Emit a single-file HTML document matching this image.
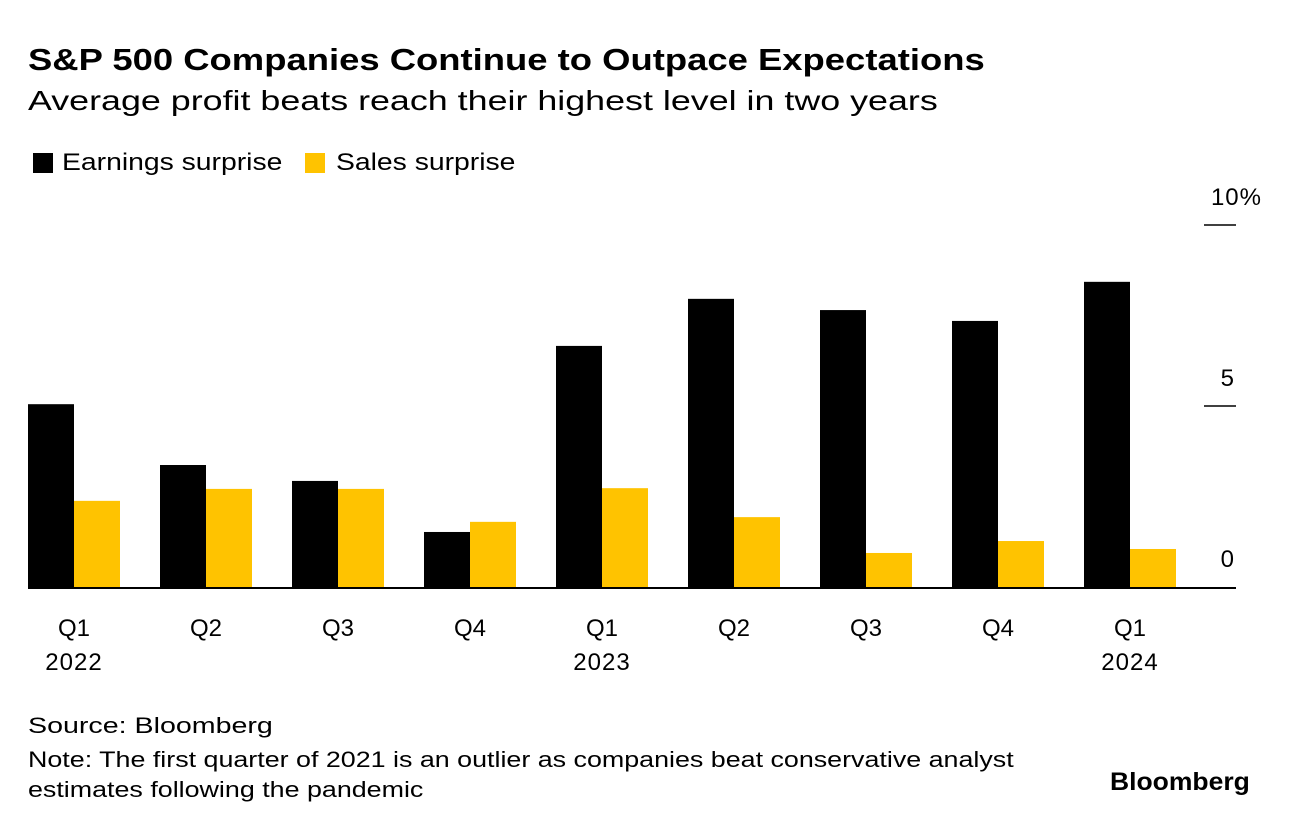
<!DOCTYPE html>
<html><head><meta charset="utf-8">
<style>
body{margin:0;background:#fff;font-family:"Liberation Sans",Arial,sans-serif;}
#wrap{position:relative;width:1289px;height:828px;overflow:hidden;}
.t{position:absolute;white-space:nowrap;color:#000;transform-origin:0 0;}
</style></head><body>
<div id="wrap">
<div class="t" style="left:28px;top:42px;font-size:31px;font-weight:bold;transform:scaleX(1.175)">S&amp;P 500 Companies Continue to Outpace Expectations</div>
<div class="t" style="left:28px;top:85px;font-size:28px;transform:scaleX(1.28)">Average profit beats reach their highest level in two years</div>
<div class="t" style="left:33px;top:153px;width:20px;height:20px;background:#000"></div>
<div class="t" style="left:62px;top:149px;font-size:24px;transform:scaleX(1.18)">Earnings surprise</div>
<div class="t" style="left:305px;top:153px;width:20px;height:20px;background:#ffc300"></div>
<div class="t" style="left:336px;top:149px;font-size:24px;transform:scaleX(1.18)">Sales surprise</div>
<svg id="plot" width="1289" height="828" style="position:absolute;left:0;top:0"></svg>
<div class="t" style="left:28px;top:713px;font-size:22px;transform:scaleX(1.3)">Source: Bloomberg</div>
<div class="t" style="left:28px;top:745px;font-size:22px;line-height:30px;transform:scaleX(1.22)">Note: The first quarter of 2021 is an outlier as companies beat conservative analyst<br>estimates following the pandemic</div>
<div class="t" style="left:1110px;top:768px;font-size:25px;font-weight:bold;transform:scaleX(1.06)">Bloomberg</div>
</div>
<script>
const categories=["Q1","Q2","Q3","Q4","Q1","Q2","Q3","Q4","Q1"];
const years=["2022","","","","2023","","","","2024"];
const earnings=[5.05,3.37,2.93,1.52,6.66,7.96,7.65,7.35,8.43];
const sales=[2.38,2.71,2.71,1.80,2.73,1.93,0.94,1.27,1.05];
const yTicks=[0,5,10];
const yTickLabels=["0","5","10%"];
const svg=document.getElementById('plot');
const NS="http://www.w3.org/2000/svg";
const y0=587,pxPer=36.2,x0=28,step=132,bw=46;
const y=v=>y0-v*pxPer;
const x=i=>x0+i*step;
function mk(t,a){const e=document.createElementNS(NS,t);for(const k in a)e.setAttribute(k,a[k]);svg.appendChild(e);return e;}
yTicks.forEach((v,i)=>{
  if(v!==0){const l=mk('line',{x1:1204,x2:1236,y1:y(v),y2:y(v),stroke:'#000','stroke-width':1.5});
  }
  const lab=yTickLabels[i];
  const t=mk('text',{x:lab.endsWith('%')?1262:1234,y:y(v)-20,'text-anchor':'end','font-size':24,'font-family':'Liberation Sans, sans-serif','letter-spacing':lab.endsWith('%')?1:0});
  t.textContent=lab;
  
});
earnings.forEach((v,i)=>{
  const r=mk('rect',{x:x(i),y:y(v),width:bw,height:v*pxPer,fill:'#000'});
  
  const s=mk('rect',{x:x(i)+bw,y:y(sales[i]),width:bw,height:sales[i]*pxPer,fill:'#ffc300'});
  
  const c=mk('text',{x:x(i)+bw,y:636,'text-anchor':'middle','font-size':24,'font-family':'Liberation Sans, sans-serif'});
  c.textContent=categories[i];
  
  if(years[i]){const yt=mk('text',{x:x(i)+bw,y:670,'text-anchor':'middle','font-size':24,'font-family':'Liberation Sans, sans-serif','letter-spacing':1});
  yt.textContent=years[i];
  }
});
const b=mk('line',{x1:28,x2:1236,y1:y0+1,y2:y0+1,stroke:'#000','stroke-width':2});

</script>
</body></html>
